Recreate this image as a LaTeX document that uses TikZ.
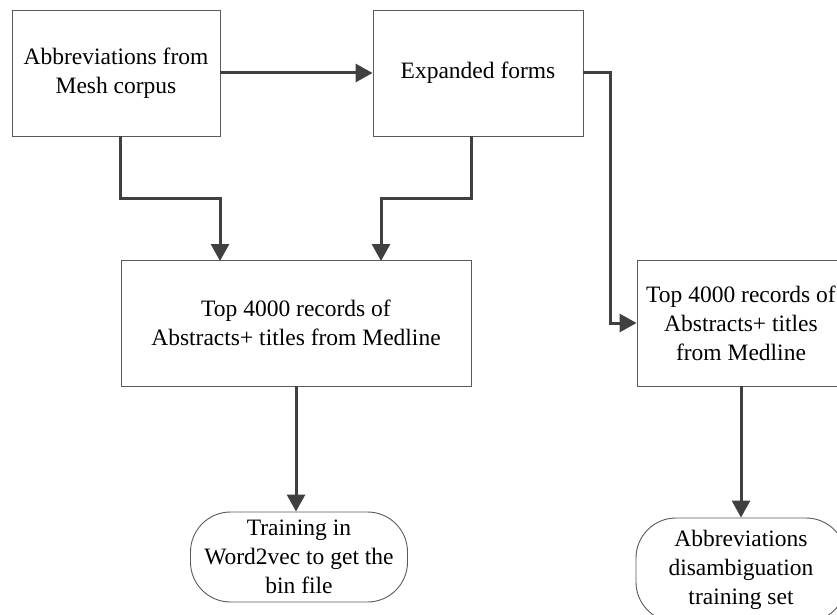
\documentclass[tikz,border=0pt]{standalone}
\usepackage{fontspec}
\setmainfont{Liberation Serif}
\usetikzlibrary{arrows.meta}
\definecolor{boxline}{HTML}{5A5A5A}
\definecolor{arrowcol}{HTML}{404040}
\tikzset{
  box/.style={draw=boxline, line width=0.9pt, fill=white, align=center, inner sep=2pt,
    font=\fontsize{23.5}{29}\selectfont},
  term/.style={box, rounded corners=40pt},
  flow/.style={draw=arrowcol, line width=3pt, -{Triangle[length=17pt,width=18pt]}},
}
\begin{document}
\begin{tikzpicture}[x=1pt,y=-1pt]
\useasboundingbox (0,0) rectangle (837,615);
\clip (0,0) rectangle (837,615);
\node[box, minimum width=208pt, minimum height=126pt] (A) at (116,73) {Abbreviations from\\Mesh corpus};
\node[box, minimum width=210pt, minimum height=126pt] (B) at (478,73) {Expanded forms};
\node[box, minimum width=350pt, minimum height=126pt] (C) at (296,323) {Top 4000 records of\\Abstracts+ titles from Medline};
\node[box, minimum width=208pt, minimum height=126pt] (D) at (741,323) {Top 4000 records of\\Abstracts+ titles\\from Medline};
\node[term, minimum width=217pt, minimum height=90pt] (E) at (299,557) {Training in\\Word2vec to get the\\bin file};
\node[term, minimum width=210pt, minimum height=104pt] (F) at (741,570) {Abbreviations\\disambiguation\\training set};
\coordinate (ca) at (220,261);
\coordinate (cb) at (381,261);
\draw[flow] (A.east) -- (B.west);
\draw[flow] ([xshift=4pt]A.south) |- (170,198) -| (ca);
\draw[flow] ([xshift=-7pt]B.south) |- (420,198) -| (cb);
\draw[flow] (B.east) -- ++(27,0) |- (D.west);
\draw[flow] (C.south) -- (C.south |- E.north);
\draw[flow] (D.south) -- (D.south |- F.north);
\end{tikzpicture}
\end{document}
